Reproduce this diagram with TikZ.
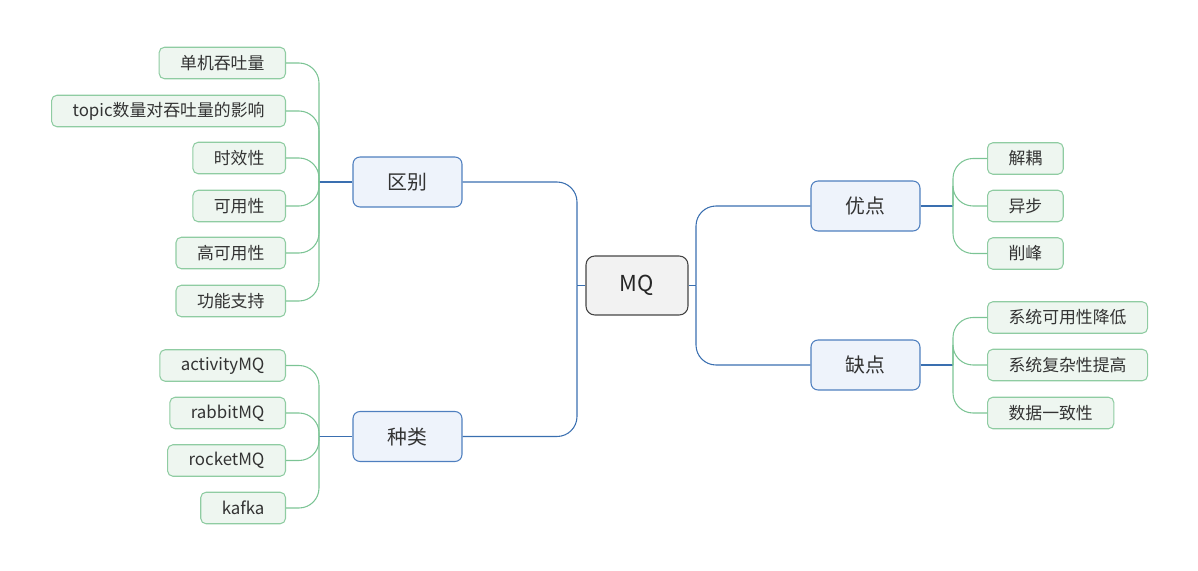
\documentclass[tikz,border=0pt]{standalone}
\usepackage{fontspec}
\setmainfont{Noto Sans CJK SC}
\usepackage{xcolor}
\usetikzlibrary{positioning}

\definecolor{rootfill}{HTML}{F2F2F2}
\definecolor{rootline}{HTML}{454545}
\definecolor{topfill}{HTML}{EEF3FB}
\definecolor{topline}{HTML}{4F7FBF}
\definecolor{blueline}{HTML}{3A6FB0}
\definecolor{leaffill}{HTML}{EEF6F0}
\definecolor{leafline}{HTML}{8FCCA2}
\definecolor{greenline}{HTML}{7CC495}
\definecolor{txt}{HTML}{333333}

\begin{document}
\begin{tikzpicture}[
  x=0.02cm, y=-0.02cm,
  root/.style={draw=rootline, fill=rootfill, rounded corners=5pt, line width=0.6pt,
    minimum width=2.04cm, minimum height=1.18cm, font=\fontsize{12.5}{14}\selectfont, text=black!85},
  topic/.style={draw=topline, fill=topfill, rounded corners=4pt, line width=0.6pt,
    minimum width=2.18cm, minimum height=1cm, font=\fontsize{11.3}{13}\selectfont, text=txt},
  leaf/.style={draw=leafline, fill=leaffill, rounded corners=3pt, line width=0.6pt,
    minimum height=0.63cm, inner xsep=0.42cm, font=\fontsize{9.6}{11}\selectfont, text=txt},
  trunk/.style={draw=blueline, line width=0.6pt, rounded corners=0.4cm},
  twig/.style={draw=greenline, line width=0.6pt, rounded corners=0.4cm},
]
\useasboundingbox (0,0) rectangle (1198,571);

% root and main topics
\node[root] (mq) at (637,285.5) {MQ};
\node[topic] (diff) at (407.5,182) {区别};
\node[topic] (kind) at (407.5,436.5) {种类};
\node[topic] (pro) at (865.5,206) {优点};
\node[topic] (con) at (865.5,365) {缺点};

% junctions
\coordinate (jl) at (577,285.5);
\coordinate (jr) at (696,285.5);
\coordinate (jdiff) at (319,182);
\coordinate (jkind) at (319,436.5);
\coordinate (jpro) at (953,206);
\coordinate (jcon) at (953,365);

% leaves of 区别
\node[leaf, anchor=east] (d1) at (286,63) {单机吞吐量};
\node[leaf, anchor=east] (d2) at (286,111) {topic数量对吞吐量的影响};
\node[leaf, anchor=east] (d3) at (286,158) {时效性};
\node[leaf, anchor=east] (d4) at (286,206) {可用性};
\node[leaf, anchor=east] (d5) at (286,253) {高可用性};
\node[leaf, anchor=east] (d6) at (286,301) {功能支持};

% leaves of 种类
\node[leaf, anchor=east] (k1) at (286,365.5) {activityMQ};
\node[leaf, anchor=east] (k2) at (286,413) {rabbitMQ};
\node[leaf, anchor=east] (k3) at (286,460.5) {rocketMQ};
\node[leaf, anchor=east] (k4) at (286,508) {kafka};

% leaves of 优点
\node[leaf, anchor=west] (p1) at (987,158.5) {解耦};
\node[leaf, anchor=west] (p2) at (987,206) {异步};
\node[leaf, anchor=west] (p3) at (987,253.5) {削峰};

% leaves of 缺点
\node[leaf, anchor=west] (c1) at (987,317.5) {系统可用性降低};
\node[leaf, anchor=west] (c2) at (987,365) {系统复杂性提高};
\node[leaf, anchor=west] (c3) at (987,413) {数据一致性};

% main branches
\draw[trunk] (mq.west) -- (jl);
\draw[trunk] (jl) |- (diff.east);
\draw[trunk] (jl) |- (kind.east);
\draw[trunk] (mq.east) -- (jr);
\draw[trunk] (jr) |- (pro.west);
\draw[trunk] (jr) |- (con.west);

% sub branches
\draw[trunk] (diff.west) -- (jdiff);
\draw[trunk] (kind.west) -- (jkind);
\draw[trunk] (pro.east) -- (jpro);
\draw[trunk] (con.east) -- (jcon);
\foreach \l in {d1,d2,d3,d4,d5,d6}
  \draw[twig] (jdiff) |- (\l.east);
\foreach \l in {k1,k2,k3,k4}
  \draw[twig] (jkind) |- (\l.east);
\foreach \l in {p1,p2,p3}
  \draw[twig] (jpro) |- (\l.west);
\foreach \l in {c1,c2,c3}
  \draw[twig] (jcon) |- (\l.west);
\end{tikzpicture}
\end{document}
